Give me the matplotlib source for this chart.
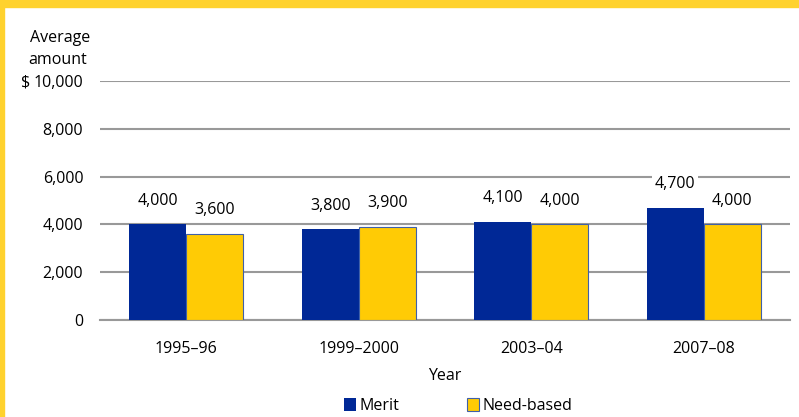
import numpy as np
import matplotlib.pyplot as plt
from matplotlib.patches import Rectangle

years = ["1995\u201396", "1999\u20132000", "2003\u201304", "2007\u201308"]
merit = [4000, 3800, 4100, 4700]
need_based = [3600, 3900, 4000, 4000]
yticks = [0, 2000, 4000, 6000, 8000, 10000]

blue = "#002896"
gold = "#FFCB05"
plt.rcParams['font.family'] = ['Open Sans', 'DejaVu Sans']
fs = 11.5

fig = plt.figure(figsize=(7.99, 4.17), dpi=100)
# yellow frame at top and left
fig.patches.append(Rectangle((0, 0.983), 1, 0.017, transform=fig.transFigure, color="#FFD22E", zorder=0))
fig.patches.append(Rectangle((0, 0), 0.005, 1, transform=fig.transFigure, color="#FFD22E", zorder=0))

ax = fig.add_axes([100 / 799, 1 - 320 / 417, 690 / 799, 239 / 417])
x = np.arange(len(years))
w = 0.33
b1 = ax.bar(x - w / 2, merit, w, color=blue, label="Merit", zorder=3)
b2 = ax.bar(x + w / 2, need_based, w, color=gold, edgecolor="#4060A8", linewidth=0.8, label="Need-based", zorder=3)

for bars, vals in ((b1, merit), (b2, need_based)):
    for rect, v in zip(bars, vals):
        ax.annotate(f"{v:,}", (rect.get_x() + rect.get_width() / 2, v), xytext=(0, 17),
                    textcoords="offset points", ha="center", va="center", fontsize=fs,
                    bbox=dict(facecolor="white", edgecolor="none", pad=2), zorder=4)

ax.set_xlim(-0.5, len(years) - 0.5)
ax.set_ylim(0, 10000)
ax.set_yticks(yticks)
ax.set_yticklabels([f"{t:,}" for t in yticks], fontsize=fs)
ax.set_xticks(x)
ax.set_xticklabels(years, fontsize=fs)
ax.tick_params(length=0, pad=12)
ax.tick_params(axis="x", pad=15)
ax.yaxis.grid(True, color="#999999", linewidth=1.5, zorder=0)
for s in ("top", "right", "left"):
    ax.spines[s].set_visible(False)
ax.spines["bottom"].set_color("#999999")
ax.spines["bottom"].set_linewidth(1.5)
ax.set_xlabel("Year", fontsize=fs, labelpad=8)

fig.text(30 / 799, 1 - 38 / 417, "Average", fontsize=fs, va="center", ha="left")
fig.text(28 / 799, 1 - 60 / 417, "amount", fontsize=fs, va="center", ha="left")
fig.text(21 / 799, 1 - 82 / 417, "$", fontsize=fs, va="center", ha="left")

fig.legend(handles=[b1, b2], loc="center", bbox_to_anchor=(458 / 799, 1 - 406 / 417), ncol=2,
           frameon=False, fontsize=fs, handlelength=0.8, handleheight=0.8, columnspacing=4.2, handletextpad=0.2)

fig.savefig("out.png", dpi=100)
